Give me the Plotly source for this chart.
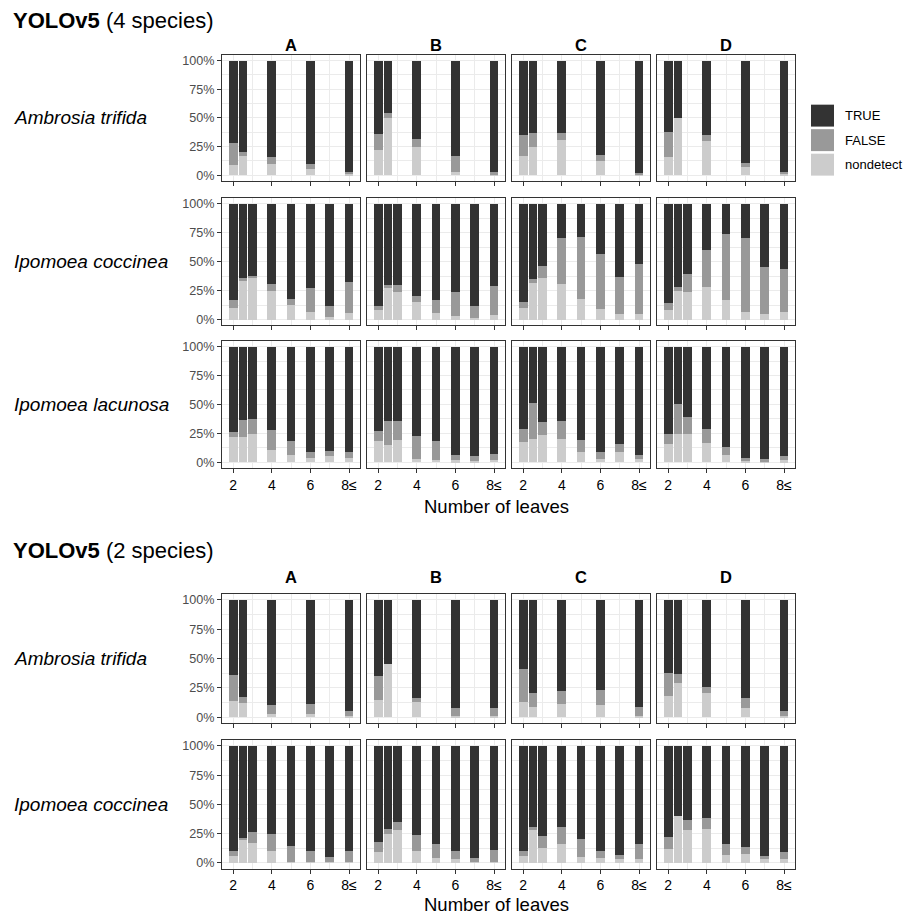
import plotly.graph_objects as go

# ---------------- data ----------------
LEAF_AMB = [2, 2.5, 4, 6, 8]
LEAF_IPO = [2, 2.5, 3, 4, 5, 6, 7, 8]
X_TICK_VALS = [2, 4, 6, 8]
X_TICK_TEXT = ["2", "4", "6", "8≤"]
Y_TICK_VALS = [0, 25, 50, 75, 100]
Y_TICK_TEXT = ["0%", "25%", "50%", "75%", "100%"]
MODELS = ["A", "B", "C", "D"]
OUTCOMES = ["nondetect", "FALSE", "TRUE"]          # stacked bottom -> top
LEGEND_ORDER = ["TRUE", "FALSE", "nondetect"]
COLORS = {"TRUE": "#333333", "FALSE": "#999999", "nondetect": "#CCCCCC"}

# YOLOv5 (4 species) — Ambrosia trifida
AMB4_ND = {"A": [9, 17, 10, 5.5, 1.5], "B": [22, 50, 25, 3, 1],
           "C": [16.5, 25, 30.5, 12, 0.5], "D": [16, 50, 29.5, 7.5, 1]}
AMB4_FA = {"A": [19, 3.5, 6, 4.5, 1.5], "B": [14, 4, 7, 13.5, 1.5],
           "C": [18.5, 12, 6.5, 6, 1.5], "D": [22, 0, 5.5, 3, 2]}
AMB4_TR = {"A": [72, 79.5, 84, 90, 97], "B": [64, 46, 68, 83.5, 97.5],
           "C": [65, 63, 63, 82, 98], "D": [62, 50, 65, 89.5, 97]}

# YOLOv5 (4 species) — Ipomoea coccinea
COC4_ND = {"A": [10, 34, 36, 25, 13, 6.5, 2, 5.5], "B": [8.5, 27, 24, 15, 5.5, 3, 1, 4],
           "C": [10, 31.5, 36, 30.5, 17.5, 9, 5, 5], "D": [8, 25, 24, 28.5, 16.5, 7, 5, 6.5]}
COC4_FA = {"A": [6.5, 1.5, 2, 5.5, 4.5, 20.5, 10, 27], "B": [3.5, 3, 5.5, 5, 11.5, 21, 11, 25],
           "C": [5.5, 3.5, 10, 40, 54, 48, 32, 43], "D": [6, 3, 15, 31.5, 57.5, 63, 40, 37]}
COC4_TR = {"A": [83.5, 64.5, 62, 69.5, 82.5, 73, 88, 67.5], "B": [88, 70, 70.5, 80, 83, 76, 88, 71],
           "C": [84.5, 65, 54, 29.5, 28.5, 43, 63, 52], "D": [86, 72, 61, 40, 26, 30, 55, 56.5]}

# YOLOv5 (4 species) — Ipomoea lacunosa
LAC4_ND = {"A": [22, 21.5, 24, 10.5, 6, 4, 5, 3.5], "B": [18, 15, 19, 3, 2, 1.5, 1, 2],
           "C": [17.5, 20.5, 23.5, 20, 8.5, 2.5, 8.5, 2.5], "D": [16, 24.5, 24.5, 17, 6.5, 1, 0.5, 1.5]}
LAC4_FA = {"A": [4, 15, 13, 17.5, 12, 4.5, 5, 5], "B": [9, 21, 16.5, 20, 16, 4.5, 4, 5.5],
           "C": [11.5, 31, 11, 15.5, 11, 6, 7.5, 3.5], "D": [8.5, 25.5, 14.5, 12, 6.5, 3, 2.5, 3.5]}
LAC4_TR = {"A": [74, 63.5, 63, 72, 82, 91.5, 90, 91.5], "B": [73, 64, 64.5, 77, 82, 94, 95, 92.5],
           "C": [71, 48.5, 65.5, 64.5, 80.5, 91.5, 84, 94], "D": [75.5, 50, 61, 71, 87, 96, 97, 95]}

# YOLOv5 (2 species) — Ambrosia trifida
AMB2_ND = {"A": [14, 12, 3, 2.5, 1], "B": [15, 45.5, 13, 1, 1],
           "C": [13, 8.5, 11, 10.5, 1], "D": [18.5, 29, 21, 7.5, 1]}
AMB2_FA = {"A": [22, 5, 7.5, 8.5, 4.5], "B": [20, 0, 3.5, 6.5, 6.5],
           "C": [28.5, 12, 11, 12.5, 8], "D": [19.5, 8, 4.5, 8.5, 4.5]}
AMB2_TR = {"A": [64, 83, 89.5, 89, 94.5], "B": [65, 54.5, 83.5, 92.5, 92.5],
           "C": [58.5, 79.5, 78, 77, 91], "D": [62, 63, 74.5, 84, 94.5]}

# YOLOv5 (2 species) — Ipomoea coccinea
COC2_ND = {"A": [6, 20, 17, 10, 1, 1, 1, 1], "B": [9, 25, 28, 10, 4, 3, 1, 1],
           "C": [6, 28, 13, 16, 5, 4, 3, 3], "D": [12, 40, 28, 29, 6.5, 7.5, 3, 3]}
COC2_FA = {"A": [4, 1.5, 9, 15, 13, 9, 4, 9], "B": [8.5, 4, 6.5, 13.5, 12, 7, 3, 10],
           "C": [4.5, 2.5, 10, 15, 15, 6.5, 4, 13], "D": [10.5, 0, 9, 9, 9.5, 6, 3, 6]}
COC2_TR = {"A": [90, 78.5, 74, 75, 86, 90, 95, 90], "B": [82.5, 71, 65.5, 76.5, 84, 90, 96, 89],
           "C": [89.5, 69.5, 77, 69, 80, 89.5, 93, 84], "D": [77.5, 60, 63, 62, 84, 86.5, 94, 91]}

SECTION_TITLES = ["<b>YOLOv5</b> (4 species)", "<b>YOLOv5</b> (2 species)"]
X_TITLE = "Number of leaves"

# ---------------- layout helpers ----------------
W, H = 903, 916
def px(x):
    return x / W
def py(y):
    return 1 - y / H

COL_X = [(222, 360), (367, 505), (512, 650), (657, 795)]
# (label, leaves, nd, fa, tr, top_px, bottom_px, show_x_labels)
ROWS = [
    ("Ambrosia trifida", LEAF_AMB, AMB4_ND, AMB4_FA, AMB4_TR, 54, 180.5, False),
    ("Ipomoea coccinea", LEAF_IPO, COC4_ND, COC4_FA, COC4_TR, 197.5, 325.5, False),
    ("Ipomoea lacunosa", LEAF_IPO, LAC4_ND, LAC4_FA, LAC4_TR, 341, 468.5, True),
    ("Ambrosia trifida", LEAF_AMB, AMB2_ND, AMB2_FA, AMB2_TR, 595, 724.5, False),
    ("Ipomoea coccinea", LEAF_IPO, COC2_ND, COC2_FA, COC2_TR, 741.5, 870.5, True),
]

FONT = "Liberation Sans, Arial, sans-serif"
GRID = "#EBEBEB"
BORDER = "#333333"

fig = go.Figure()
layout = dict(
    width=W, height=H, autosize=False,
    margin=dict(l=0, r=0, t=0, b=0),
    paper_bgcolor="white", plot_bgcolor="white",
    barmode="stack", showlegend=False,
    font=dict(family=FONT, color="black"),
)
annotations = []
shapes = []

for r, (label, leaves, nd, fa, tr, top, bot, showx) in enumerate(ROWS):
    for c, m in enumerate(MODELS):
        n = r * 4 + c + 1
        xa = "x" if n == 1 else f"x{n}"
        ya = "y" if n == 1 else f"y{n}"
        vals = {"nondetect": nd[m], "FALSE": fa[m], "TRUE": tr[m]}
        for oc in OUTCOMES:
            fig.add_trace(go.Bar(
                x=leaves, y=vals[oc], width=0.45, name=oc,
                marker=dict(color=COLORS[oc], line=dict(width=0)),
                xaxis=xa, yaxis=ya, showlegend=False, hoverinfo="skip",
            ))
        x0, x1 = COL_X[c]
        layout["xaxis" if n == 1 else f"xaxis{n}"] = dict(
            domain=[px(x0), px(x1)], anchor=ya, range=[1.42, 8.57],
            tickmode="array", tickvals=X_TICK_VALS, ticktext=X_TICK_TEXT,
            showticklabels=showx, ticks="outside", ticklen=4, tickwidth=1,
            tickcolor=BORDER, tickfont=dict(size=14, color="black", family=FONT),
            showgrid=True, gridcolor=GRID, gridwidth=1,
            minor=dict(tickmode="array", tickvals=[1, 3, 5, 7, 9], showgrid=True,
                       gridcolor=GRID, gridwidth=0.6, ticks=""),
            showline=True, mirror=True, linecolor=BORDER, linewidth=1,
            zeroline=False, fixedrange=True,
        )
        layout["yaxis" if n == 1 else f"yaxis{n}"] = dict(
            domain=[py(bot), py(top)], anchor=xa, range=[-5, 105],
            tickmode="array", tickvals=Y_TICK_VALS, ticktext=Y_TICK_TEXT,
            showticklabels=(c == 0), ticks="outside" if c == 0 else "",
            ticklen=4, tickwidth=1, tickcolor=BORDER,
            tickfont=dict(size=12.6, color="#4D4D4D", family=FONT),
            showgrid=True, gridcolor=GRID, gridwidth=1,
            minor=dict(tickmode="array", tickvals=[12.5, 37.5, 62.5, 87.5], showgrid=True,
                       gridcolor=GRID, gridwidth=0.6, ticks=""),
            showline=True, mirror=True, linecolor=BORDER, linewidth=1,
            zeroline=False, fixedrange=True,
        )
    # row label (at 50% level of first panel)
    yref = "y" if r == 0 else f"y{r * 4 + 1}"
    annotations.append(dict(
        text=f"<i>{label}</i>", xref="paper", yref=yref, x=px(12), y=50,
        xanchor="left", yanchor="middle", showarrow=False,
        font=dict(size=19, color="black", family=FONT),
    ))

# section titles, strip labels, x-axis titles
for title, ty, sy, xty in [(SECTION_TITLES[0], 20, 44, 507), (SECTION_TITLES[1], 551, 578, 906)]:
    annotations.append(dict(text=title, xref="paper", yref="paper", x=px(11), y=py(ty),
                            xanchor="left", yanchor="middle", showarrow=False,
                            font=dict(size=22, color="black", family=FONT)))
    for c, m in enumerate(MODELS):
        x0, x1 = COL_X[c]
        annotations.append(dict(text=f"<b>{m}</b>", xref="paper", yref="paper",
                                x=px((x0 + x1) / 2), y=py(sy), xanchor="center", yanchor="middle",
                                showarrow=False, font=dict(size=16.5, color="black", family=FONT)))
    annotations.append(dict(text=X_TITLE, xref="paper", yref="paper", x=px(496), y=py(xty),
                            xanchor="center", yanchor="middle", showarrow=False,
                            font=dict(size=18.5, color="black", family=FONT)))

# legend (drawn manually to match large square keys)
for i, oc in enumerate(LEGEND_ORDER):
    ky0 = 104 + i * 24.6
    shapes.append(dict(type="rect", xref="paper", yref="paper",
                       x0=px(811), x1=px(834), y0=py(ky0 + 22), y1=py(ky0),
                       fillcolor=COLORS[oc], line=dict(width=0)))
    annotations.append(dict(text=oc, xref="paper", yref="paper", x=px(843), y=py(ky0 + 11),
                            xanchor="left", yanchor="middle", showarrow=False,
                            font=dict(size=13, color="black", family=FONT)))

layout["annotations"] = annotations
layout["shapes"] = shapes
fig.update_layout(**layout)

# remove the default page margin so the 903x916 figure fills the window exactly
PAGE_FIX = ("document.body.style.margin='0';document.body.style.padding='0';"
            "document.documentElement.style.overflow='hidden';")
fig.write_html("out.html", post_script=PAGE_FIX, config={"displayModeBar": False})
